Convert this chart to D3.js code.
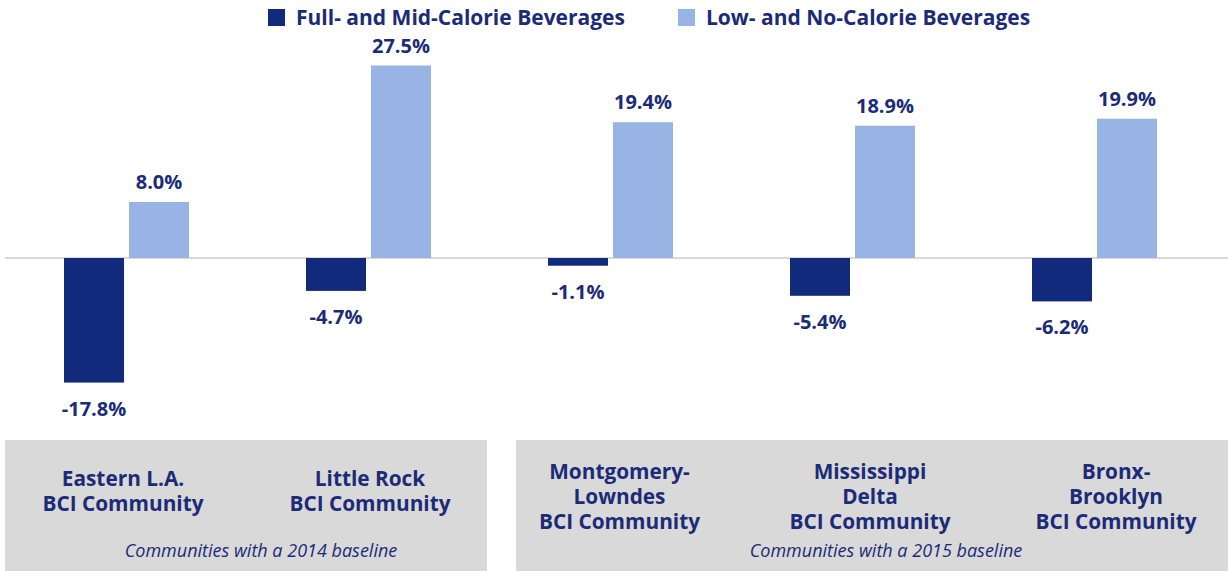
<!DOCTYPE html>
<html><head><meta charset="utf-8">
<script src="https://cdn.jsdelivr.net/npm/d3@7"></script>
<style>body{margin:0;background:#fff}svg{display:block}</style>
</head><body><svg id="c" width="1230" height="571"></svg>
<script>
const categories = ["Eastern L.A.", "Little Rock", "Montgomery-Lowndes", "Mississippi Delta", "Bronx-Brooklyn"];
const categoryLines = [["Eastern L.A.", "BCI Community"], ["Little Rock", "BCI Community"], ["Montgomery-", "Lowndes", "BCI Community"], ["Mississippi", "Delta", "BCI Community"], ["Bronx-", "Brooklyn", "BCI Community"]];
const seriesNames = ["Full- and Mid-Calorie Beverages", "Low- and No-Calorie Beverages"];
const fullMidValues = [-17.8, -4.7, -1.1, -5.4, -6.2];
const lowNoValues = [8.0, 27.5, 19.4, 18.9, 19.9];
const baselineGroups = ["Communities with a 2014 baseline", "Communities with a 2015 baseline"];

const W = 1230, H = 571;
const navy = "#1b2b78", dark = "#122a7b", light = "#98b4e4", gray = "#d9d9d9";
const font = "'Open Sans', sans-serif";
const svg = d3.select("#c");

const x0 = d3.scaleBand().domain(categories).range([5.5, 1215.5]).padding(0);
const bw = x0.bandwidth();
const x1 = d3.scaleBand().domain(seriesNames).range([bw/2 - 62.5, bw/2 + 62.5]).paddingInner(5/65).paddingOuter(0);
const y = d3.scaleLinear().domain([-20, 30]).range([398, 48]);
const color = d3.scaleOrdinal().domain(seriesNames).range([dark, light]);
const fmt = v => d3.format(".1f")(v).replace("\u2212", "-") + "%";

const rows = categories.map((c, i) => ({cat: c, vals: [
  {s: seriesNames[0], v: fullMidValues[i]}, {s: seriesNames[1], v: lowNoValues[i]}]}));

// zero line
svg.append("line").attr("x1", 5).attr("x2", 1228).attr("y1", y(0)).attr("y2", y(0))
  .attr("stroke", gray).attr("stroke-width", 2);

const g = svg.selectAll("g.grp").data(rows).join("g").attr("class", "grp")
  .attr("transform", d => `translate(${x0(d.cat)},0)`);
g.selectAll("rect").data(d => d.vals).join("rect")
  .attr("x", d => x1(d.s)).attr("width", x1.bandwidth())
  .attr("y", d => y(Math.max(0, d.v))).attr("height", d => Math.abs(y(d.v) - y(0)))
  .attr("fill", d => color(d.s));
g.selectAll("text").data(d => d.vals).join("text")
  .attr("x", d => x1(d.s) + x1.bandwidth()/2)
  .attr("y", d => d.v >= 0 ? y(d.v) - 13 : y(d.v) + 33)
  .attr("text-anchor", "middle").attr("font-family", font).attr("font-weight", 700)
  .attr("font-size", 20).attr("fill", navy)
  .text(d => fmt(d.v));

// legend
const legX = [268, 678];
seriesNames.forEach((s, i) => {
  svg.append("rect").attr("x", legX[i]).attr("y", 9).attr("width", 17).attr("height", 17).attr("fill", color(s));
  svg.append("text").attr("x", legX[i] + 28).attr("y", 25).attr("font-family", font).attr("font-weight", 700)
    .attr("font-size", 21).attr("fill", navy).text(s);
});

// bottom boxes
const boxes = [[5, 487], [516, 1228]];
boxes.forEach(b => svg.append("rect").attr("x", b[0]).attr("y", 440).attr("width", b[1]-b[0]).attr("height", H-440).attr("fill", gray));
const labelCx = [123, 370, 619.5, 870, 1116];
categoryLines.forEach((lines, i) => {
  const y0 = lines.length === 2 ? 486 : 479;
  const t = svg.append("text").attr("text-anchor", "middle").attr("font-family", font).attr("font-weight", 700)
    .attr("font-size", 20.8).attr("fill", navy);
  lines.forEach((l, j) => t.append("tspan").attr("x", labelCx[i]).attr("y", y0 + j*25).text(l));
});
const capCx = [261, 886];
baselineGroups.forEach((s, i) => svg.append("text").attr("x", capCx[i]).attr("y", 557).attr("text-anchor", "middle")
  .attr("font-family", font).attr("font-style", "italic").attr("font-size", 18).attr("fill", navy).text(s));
</script></body></html>
